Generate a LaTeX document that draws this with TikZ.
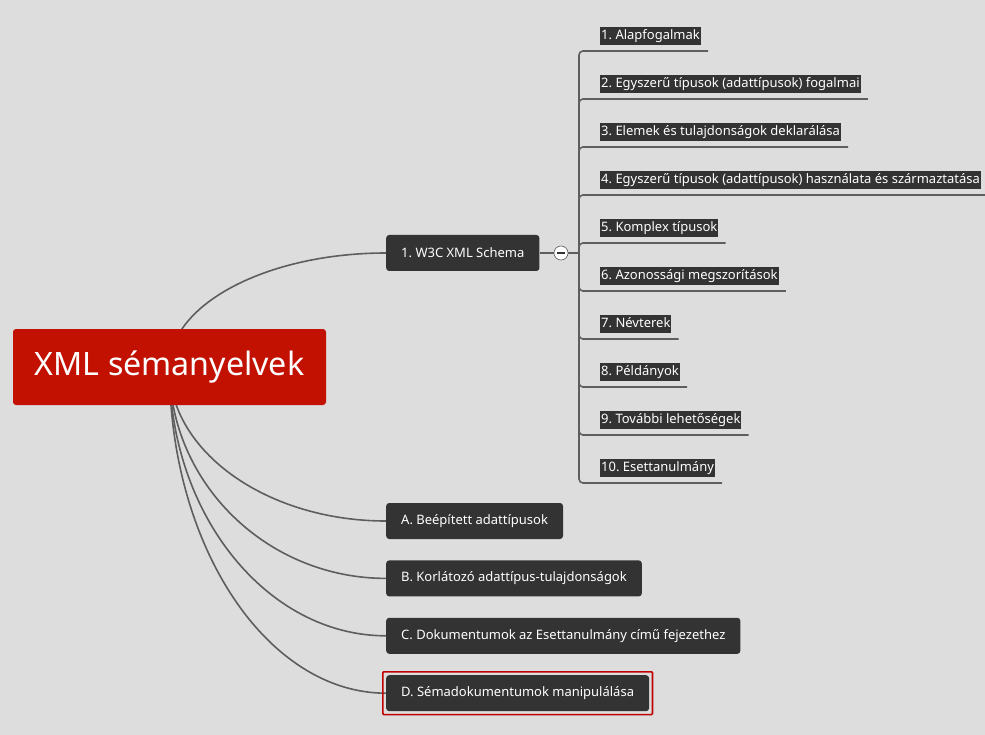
\documentclass[tikz,border=0pt]{standalone}
\usepackage{fontspec}
\setmainfont{Noto Sans}
\usetikzlibrary{positioning,calc,backgrounds,fit}
\definecolor{bgc}{HTML}{DDDDDD}
\definecolor{nodec}{HTML}{333333}
\definecolor{linec}{HTML}{5E5E5E}
\definecolor{rootc}{HTML}{C21100}
\definecolor{selc}{HTML}{C00000}
\newcommand{\topicfont}{\fontsize{13}{13}\selectfont}
\frenchspacing

\begin{document}
\begin{tikzpicture}[x=1pt,y=-1pt,
	root/.style={fill=rootc, rounded corners=3pt, text=white, font=\fontsize{32.2}{32.2}\selectfont, minimum width=313pt, minimum height=76pt},
	topic/.style={fill=nodec, rounded corners=3pt, text=white, font=\topicfont, minimum height=36pt, inner xsep=15pt, anchor=west},
	sub/.style={fill=nodec, text=white, font=\topicfont, inner xsep=1pt, inner ysep=2.5pt, text height=10pt, text depth=3pt, anchor=south west},
	branch/.style={draw=linec, line width=1.6pt},
	leaf/.style={draw=linec, line width=1.6pt, rounded corners=4pt}]
	\useasboundingbox (0,0) rectangle (985,735);

	\node[root] (root) at (169.5,367) {XML sémanyelvek};

	\node[topic] (w3c) at (386,253) {1. W3C XML Schema};
	\node[topic] (a) at (386,521) {A. Beépített adattípusok};
	\node[topic, below=21pt of a.south west, anchor=north west] (b) {B. Korlátozó adattípus-tulajdonságok};
	\node[topic, below=21pt of b.south west, anchor=north west] (c) {C. Dokumentumok az Esettanulmány című fejezethez};
	\node[topic, below=21pt of c.south west, anchor=north west] (d) {D. Sémadokumentumok manipulálása};
	\node[draw=selc, line width=1.6pt, rounded corners=1pt, fit=(d), inner sep=3.2pt] (sel) {};

	\node[circle, fill=white, draw=linec, line width=0.6pt, minimum size=14pt, inner sep=0pt] (fold) at (561,253) {\color{nodec}\rule[-0.8pt]{8pt}{1.6pt}};
	\coordinate (hub) at (579,253);

	\node[sub] (s1) at (600,45) {1. Alapfogalmak};
	\node[sub] (s2) at (600,93) {2. Egyszerű típusok (adattípusok) fogalmai};
	\node[sub] (s3) at (600,141) {3. Elemek és tulajdonságok deklarálása};
	\node[sub] (s4) at (600,189) {4. Egyszerű típusok (adattípusok) használata és származtatása};
	\node[sub] (s5) at (600,237) {5. Komplex típusok};
	\node[sub] (s6) at (600,285) {6. Azonossági megszorítások};
	\node[sub] (s7) at (600,333) {7. Névterek};
	\node[sub] (s8) at (600,381) {8. Példányok};
	\node[sub] (s9) at (600,429) {9. További lehetőségek};
	\node[sub] (s10) at (600,477) {10. Esettanulmány};

	\begin{scope}[on background layer]
		\fill[bgc] (0,0) rectangle (985,735);
		\draw[branch] (root.center) .. controls ($(root.center)!0.55!(root.center |- w3c.west)$) and ($(w3c.west)+(-119pt,0)$) .. (w3c.west);
		\draw[branch] (root.center) .. controls ($(root.center)!0.55!(root.center |- a.west)$) and ($(a.west)+(-119pt,0)$) .. (a.west);
		\draw[branch] (root.center) .. controls ($(root.center)!0.55!(root.center |- b.west)$) and ($(b.west)+(-119pt,0)$) .. (b.west);
		\draw[branch] (root.center) .. controls ($(root.center)!0.55!(root.center |- c.west)$) and ($(c.west)+(-119pt,0)$) .. (c.west);
		\draw[branch] (root.center) .. controls ($(root.center)!0.55!(root.center |- d.west)$) and ($(d.west)+(-119pt,0)$) .. (d.west);
	\end{scope}

	\draw[branch] (w3c.east) -- (fold.west);
	\draw[branch] (fold.east) -- (hub);
	\draw[leaf] (hub) |- ([xshift=7pt,yshift=-6pt]s1.south east);
	\draw[leaf] (hub) |- ([xshift=7pt,yshift=-6pt]s2.south east);
	\draw[leaf] (hub) |- ([xshift=7pt,yshift=-6pt]s3.south east);
	\draw[leaf] (hub) |- ([xshift=7pt,yshift=-6pt]s4.south east);
	\draw[leaf] (hub) |- ([xshift=7pt,yshift=-6pt]s5.south east);
	\draw[leaf] (hub) |- ([xshift=7pt,yshift=-6pt]s6.south east);
	\draw[leaf] (hub) |- ([xshift=7pt,yshift=-6pt]s7.south east);
	\draw[leaf] (hub) |- ([xshift=7pt,yshift=-6pt]s8.south east);
	\draw[leaf] (hub) |- ([xshift=7pt,yshift=-6pt]s9.south east);
	\draw[leaf] (hub) |- ([xshift=7pt,yshift=-6pt]s10.south east);
\end{tikzpicture}
\end{document}
